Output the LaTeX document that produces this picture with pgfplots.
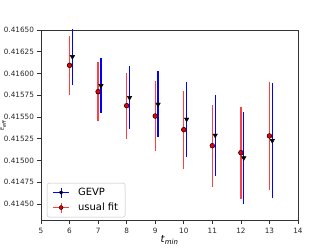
\documentclass[border=0pt]{standalone}
\usepackage{pgfplots}
\pgfplotsset{compat=1.18}
\usepackage{fontspec}
\setmainfont{DejaVu Sans}
\begin{document}
\begin{tikzpicture}[x=1bp,y=1bp]
\useasboundingbox (0,0) rectangle (332,249);
\begin{axis}[
  at={(41bp,28.3bp)}, anchor=south west,
  scale only axis, width=257bp, height=190.7bp,
  xmin=5, xmax=14, ymin=0.414308, ymax=0.4165,
  xtick={5,6,...,14},
  ytick={0.4145,0.41475,0.415,0.41525,0.4155,0.41575,0.416,0.41625,0.4165},
  yticklabels={0.41450,0.41475,0.41500,0.41525,0.41550,0.41575,0.41600,0.41625,0.41650},
  scaled y ticks=false,
  /pgf/number format/assume math mode=true,
  tick label style={font=\fontsize{7.3}{8.5}\selectfont, text=black!85},
  tick align=outside, tick pos=left,
  major tick length=3.5bp,
  axis line style={black!80, line width=0.6pt},
  every tick/.style={black!80, line width=0.6pt},
  xlabel={\textit{t}\textsubscript{\textit{min}}},
  xlabel style={font=\fontsize{10}{12}\selectfont, at={(axis description cs:0.5,0)}, anchor=north, yshift=-11bp},
  ylabel={\textit{E}\textsubscript{\textit{eff}}},
  ylabel style={font=\fontsize{5}{6}\selectfont, at={(axis description cs:-0.148,0.5)}, anchor=center, rotate=0},
  clip=true,
  legend style={at={(axis description cs:0.023,0.018)}, anchor=south west,
    font=\fontsize{10}{12}\selectfont, draw=black!25, rounded corners=2pt,
    fill=white, inner xsep=5pt, inner ysep=3pt, row sep=2pt,
    cells={anchor=west}},
]
\addplot[only marks, mark=triangle*, mark size=2.6pt,
  mark options={rotate=180, fill=black, draw=black},
  error bars/.cd, y dir=both, y explicit, error mark=none,
  error bar style={blue, line width=1.3pt},
  /pgfplots/legend image code/.code={
  \path[draw=none, fill=none] (0,0)--(24bp,0);
  \draw[blue, line width=1.1pt] (1bp,0)--(17bp,0) (9bp,-5bp)--(9bp,5bp);
  \fill[black] (9bp,0) ++(0,-2.6bp) -- ++(2.3bp,4bp) -- ++(-4.6bp,0) -- cycle;},
  ] coordinates {
  (6.1,0.416193) +- (0,0.000325)
  (7.1,0.415860) +- (0,0.000318)
  (8.1,0.415722) +- (0,0.000365)
  (9.1,0.415646) +- (0,0.000380)
  (10.1,0.415474) +- (0,0.000430)
  (11.1,0.415290) +- (0,0.000463)
  (12.1,0.415029) +- (0,0.000525)
  (13.1,0.415228) +- (0,0.000660)
};
\addlegendentry{GEVP}
\addplot[only marks, mark=*, mark size=2.4pt,
  mark options={fill=red!90!black, draw=black, line width=0.5pt},
  error bars/.cd, y dir=both, y explicit, error mark=none,
  error bar style={red!75, line width=1.3pt},
  /pgfplots/legend image code/.code={
  \path[draw=none, fill=none] (0,0)--(24bp,0);
  \draw[red!75, line width=1.1pt] (1bp,0)--(17bp,0) (9bp,-5bp)--(9bp,5bp);
  \filldraw[fill=red!90!black, draw=black, line width=0.4pt] (9bp,0) circle (2bp);},
  ] coordinates {
  (6,0.416094) +- (0,0.000340)
  (7,0.415791) +- (0,0.000340)
  (8,0.415630) +- (0,0.000380)
  (9,0.415511) +- (0,0.000400)
  (10,0.415354) +- (0,0.000450)
  (11,0.415170) +- (0,0.000470)
  (12,0.415090) +- (0,0.000530)
  (13,0.415282) +- (0,0.000620)
};
\addlegendentry{usual fit}
\end{axis}
\end{tikzpicture}
\end{document}
